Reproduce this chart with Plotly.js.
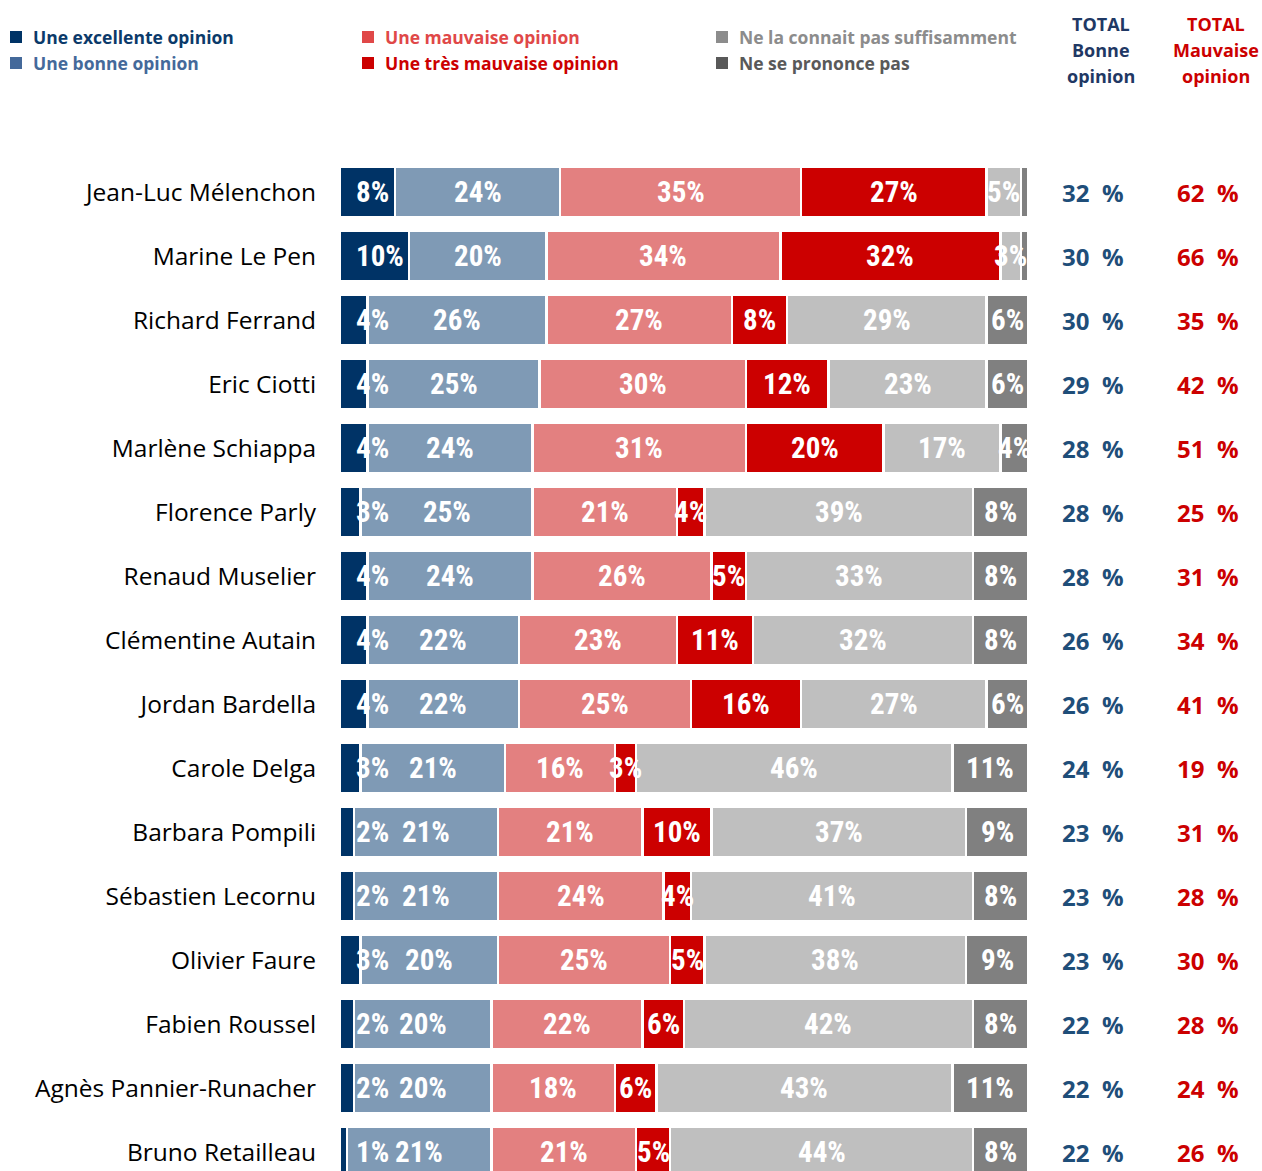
<!DOCTYPE html>
<html>
<head>
<meta charset="utf-8">
<script src="https://cdn.plot.ly/plotly-3.0.1.min.js"></script>
<style>html,body{margin:0;padding:0;background:#fff;}#chart{width:1262px;height:1171px;}</style>
</head>
<body>
<div id="chart"></div>
<script>
const names = ["Jean-Luc Mélenchon","Marine Le Pen","Richard Ferrand","Eric Ciotti","Marlène Schiappa","Florence Parly","Renaud Muselier","Clémentine Autain","Jordan Bardella","Carole Delga","Barbara Pompili","Sébastien Lecornu","Olivier Faure","Fabien Roussel","Agnès Pannier-Runacher","Bruno Retailleau"];
const excellente   = [8,10,4,4,4,3,4,4,4,3,2,2,3,2,2,1];
const bonne        = [24,20,26,25,24,25,24,22,22,21,21,21,20,20,20,21];
const mauvaise     = [35,34,27,30,31,21,26,23,25,16,21,24,25,22,18,21];
const tresMauvaise = [27,32,8,12,20,4,5,11,16,3,10,4,5,6,6,5];
const neConnaitPas = [5,3,29,23,17,39,33,32,27,46,37,41,38,42,43,44];
const nspp         = [1,1,6,6,4,8,8,8,6,11,9,8,9,8,11,8];
const totalBonne    = [32,30,30,29,28,28,28,26,26,24,23,23,23,22,22,22];
const totalMauvaise = [62,66,35,42,51,25,31,34,41,19,31,28,30,28,24,26];
const seriesNames = ["Une excellente opinion","Une bonne opinion","Une mauvaise opinion","Une très mauvaise opinion","Ne la connait pas suffisamment","Ne se prononce pas"];

const W = 1262, H = 1171;
const L = 340, R = 1028, T = 160, B = 1171;
const px2x = p => (p - L) / (R - L);
const px2y = p => (B - p) / (B - T);

const idx = names.map((_, i) => i);
const barColors = ["#003366","#7f9ab5","#e38080","#cc0000","#bfbfbf","#808080"];
const series = [excellente, bonne, mauvaise, tresMauvaise, neConnaitPas, nspp];
const labelFont = {family: "'Liberation Sans Narrow','Arial Narrow','Roboto Condensed',Roboto,sans-serif", size: 29, color: "#ffffff", weight: 700};

const traces = series.map((vals, k) => ({
  type: "bar",
  orientation: "h",
  name: seriesNames[k],
  x: vals,
  y: idx,
  width: 0.79,
  marker: {color: barColors[k], line: {color: "#ffffff", width: 2.5}},
  hoverinfo: "name+x",
  showlegend: false
}));

const annotations = [];
// value labels, drawn above all bars
const cum = idx.map(() => 0);
series.forEach((vals, k) => {
  vals.forEach((v, i) => {
    const start = cum[i];
    cum[i] += v;
    if (k === 5 && v < 2) return;
    annotations.push({
      xref: "x", yref: "y", x: k === 0 ? start : start + v / 2, y: i,
      text: v + "%", showarrow: false,
      xanchor: k === 0 ? "left" : "center", yanchor: "middle",
      xshift: k === 0 ? 14 : 0, yshift: 0,
      font: labelFont
    });
  });
});

const totFont = (c) => ({family: "'Open Sans',sans-serif", size: 24, color: c, weight: 700});
idx.forEach(i => {
  annotations.push({xref: "paper", yref: "y", x: px2x(1093), y: i, text: totalBonne[i] + "\u00a0\u00a0%", showarrow: false, xanchor: "center", yanchor: "middle", font: totFont("#1f4e79")});
  annotations.push({xref: "paper", yref: "y", x: px2x(1208), y: i, text: totalMauvaise[i] + "\u00a0\u00a0%", showarrow: false, xanchor: "center", yanchor: "middle", font: totFont("#cc0000")});
});
const headFont = (c) => ({family: "'Open Sans',sans-serif", size: 18, color: c, weight: 700});
[["TOTAL",24],["Bonne",50],["opinion",76]].forEach(([t,y]) => annotations.push({xref:"paper",yref:"paper",x:px2x(1101),y:px2y(y),text:t,showarrow:false,xanchor:"center",yanchor:"middle",font:headFont("#1f3864")}));
[["TOTAL",24],["Mauvaise",50],["opinion",76]].forEach(([t,y]) => annotations.push({xref:"paper",yref:"paper",x:px2x(1216),y:px2y(y),text:t,showarrow:false,xanchor:"center",yanchor:"middle",font:headFont("#cc0000")}));

// legend (custom)
const legendPos = [[10,37],[10,63],[362,37],[362,63],[716,37],[716,63]];
const legendSq = ["#003366","#44699a","#e04848","#cc0000","#8c8c8c","#595959"];
const legendTx = ["#0b3a6a","#44699a","#e04848","#cc0000","#8c8c8c","#595959"];
const shapes = [];
seriesNames.forEach((n, k) => {
  const [sx, sy] = legendPos[k];
  shapes.push({type:"rect", xref:"paper", yref:"paper", x0:px2x(sx), x1:px2x(sx+12), y0:px2y(sy+6), y1:px2y(sy-6), fillcolor:legendSq[k], line:{width:0}});
  annotations.push({xref:"paper", yref:"paper", x:px2x(sx+21), y:px2y(sy), text:n, showarrow:false, xanchor:"left", yanchor:"middle", font:{family:"'Open Sans',sans-serif", size:17.5, color:legendTx[k], weight:700}});
});

const layout = {
  width: W, height: H,
  margin: {l: L, r: W - R, t: T, b: H - B, pad: 0},
  paper_bgcolor: "#ffffff", plot_bgcolor: "#ffffff",
  barmode: "stack",
  showlegend: false,
  xaxis: {range: [0, 100], showticklabels: false, showgrid: false, zeroline: false, showline: false, fixedrange: true},
  yaxis: {
    range: [15 + (B - 1152) / 64, -0.5],
    tickvals: idx, ticktext: names,
    ticks: "outside", ticklen: 18, tickcolor: "rgba(0,0,0,0)",
    showgrid: false, zeroline: false, showline: false,
    tickfont: {family: "'Open Sans',sans-serif", size: 24.5, color: "#000000"}
  },
  annotations: annotations,
  shapes: shapes,
  font: {family: "'Open Sans',sans-serif"}
};

Plotly.newPlot("chart", traces, layout, {displayModeBar: false, staticPlot: true});
</script>
</body>
</html>
